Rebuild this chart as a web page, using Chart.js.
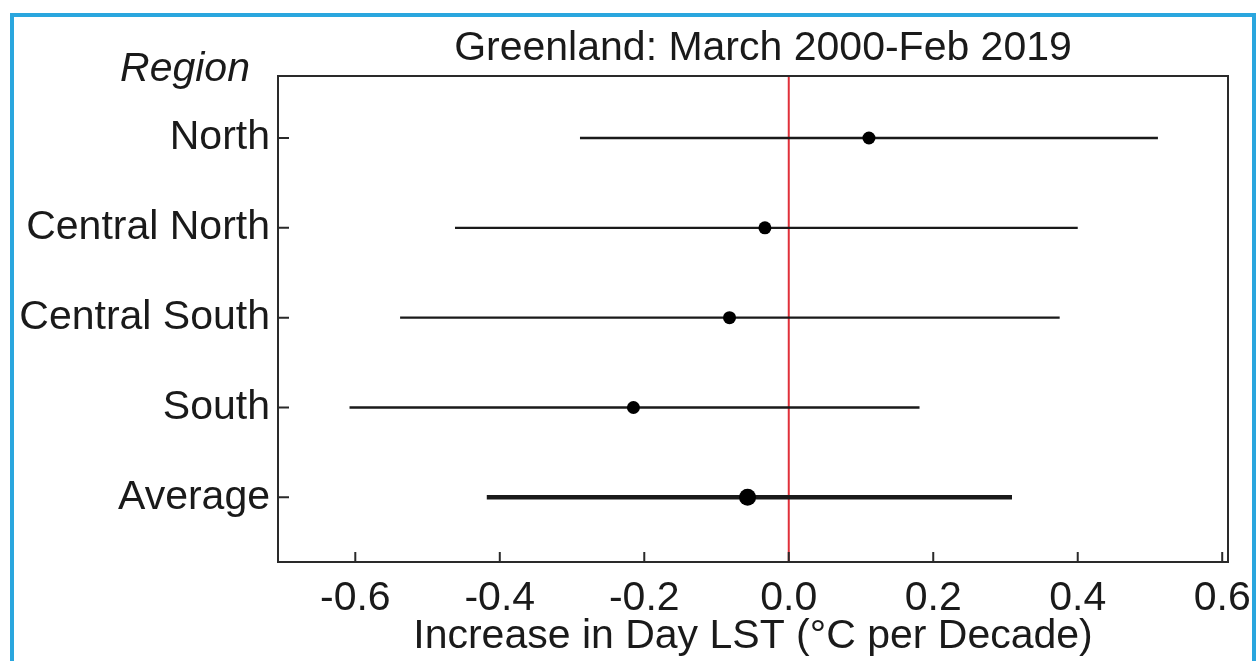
<!DOCTYPE html>
<html>
<head>
<meta charset="utf-8">
<script src="https://cdn.jsdelivr.net/npm/chart.js@4"></script>
<style>
html,body{margin:0;padding:0;background:#fff;}
#wrap{position:relative;width:1258px;height:661px;}
</style>
</head>
<body>
<div id="wrap"><canvas id="c" width="1258" height="661"></canvas></div>
<script>
// ---- data ----
const categories = ["North", "Central North", "Central South", "South", "Average"];
const estimates  = [0.111, -0.033, -0.082, -0.215, -0.057];
const lowerCI    = [-0.289, -0.462, -0.538, -0.608, -0.418];
const upperCI    = [0.511, 0.400, 0.375, 0.181, 0.309];
const xTickValues = [-0.6, -0.4, -0.2, 0.0, 0.2, 0.4, 0.6];
const refValue = 0.0;
const titleText = "Greenland: March 2000-Feb 2019";
const xTitleText = "Increase in Day LST (\u00B0C per Decade)";
const yTitleText = "Region";

const FONT = "'Liberation Sans', Arial, sans-serif";
const TXT = "#1a1a1a";

const datasets = [];
categories.forEach((c, i) => {
  const isAvg = c === "Average";
  datasets.push({
    type: 'line',
    data: [{x: lowerCI[i], y: i + 1}, {x: upperCI[i], y: i + 1}],
    borderColor: '#1a1a1a',
    borderWidth: isAvg ? 4.5 : 2.3,
    pointRadius: 0,
    fill: false,
    order: 2
  });
});
datasets.push({
  type: 'scatter',
  data: estimates.map((v, i) => ({x: v, y: i + 1})),
  backgroundColor: '#000',
  borderColor: '#000',
  borderWidth: 0,
  pointRadius: estimates.map((v, i) => categories[i] === "Average" ? 8.5 : 6.5),
  order: 1
});

const decor = {
  id: 'decor',
  beforeDraw(chart) {
    const ctx = chart.ctx;
    ctx.save();
    ctx.fillStyle = '#fff';
    ctx.fillRect(0, 0, chart.width, chart.height);
    ctx.strokeStyle = '#2aa6de';
    ctx.lineWidth = 4;
    ctx.strokeRect(12, 15, 1242, 700);
    ctx.restore();
  },
  beforeDatasetsDraw(chart) {
    const {ctx, chartArea: a, scales: {x}} = chart;
    ctx.save();
    const rx = x.getPixelForValue(refValue);
    ctx.strokeStyle = '#e0303a';
    ctx.lineWidth = 2;
    ctx.beginPath();
    ctx.moveTo(rx, a.top);
    ctx.lineTo(rx, a.bottom);
    ctx.stroke();
    ctx.restore();
  },
  afterDraw(chart) {
    const {ctx, chartArea: a, scales: {x, y}} = chart;
    ctx.save();
    ctx.strokeStyle = '#2a2a2a';
    ctx.lineWidth = 2;
    ctx.strokeRect(a.left, a.top, a.right - a.left, a.bottom - a.top);
    ctx.beginPath();
    x.ticks.forEach(t => {
      const px = x.getPixelForValue(t.value);
      ctx.moveTo(px, a.bottom);
      ctx.lineTo(px, a.bottom - 10);
    });
    y.ticks.forEach(t => {
      const py = y.getPixelForValue(t.value);
      ctx.moveTo(a.left, py);
      ctx.lineTo(a.left + 11, py);
    });
    ctx.stroke();

    ctx.fillStyle = TXT;
    ctx.textAlign = 'center';
    ctx.textBaseline = 'middle';
    ctx.font = "41px " + FONT;
    ctx.fillText(titleText, (a.left + a.right) / 2 + 10, 49);
    ctx.fillText(xTitleText, (a.left + a.right) / 2, 637);
    ctx.font = "italic 41px " + FONT;
    ctx.fillText(yTitleText, 185, 70);
    ctx.restore();
  }
};

new Chart(document.getElementById('c'), {
  data: {datasets},
  options: {
    responsive: false,
    animation: false,
    devicePixelRatio: 1,
    layout: {padding: {top: 76, right: 30, left: 0, bottom: 0}},
    plugins: {legend: {display: false}, tooltip: {enabled: false}, title: {display: false}},
    scales: {
      x: {
        type: 'linear',
        min: -0.707, max: 0.608,
        grid: {display: false, drawTicks: false},
        border: {display: false},
        afterBuildTicks: s => { s.ticks = xTickValues.map(v => ({value: v})); },
        afterFit: s => { s.height = 99; s.paddingLeft = 0; s.paddingRight = 0; },
        ticks: {
          padding: 12,
          color: TXT,
          font: {family: FONT, size: 41},
          maxRotation: 0,
          autoSkip: false,
          callback: v => Number(v).toFixed(1)
        }
      },
      y: {
        type: 'linear',
        reverse: true,
        min: 0.31, max: 5.72,
        grid: {display: false, drawTicks: false},
        border: {display: false},
        afterBuildTicks: s => { s.ticks = categories.map((c, i) => ({value: i + 1})); },
        afterFit: s => { s.width = 278; s.paddingTop = 0; s.paddingBottom = 0; },
        ticks: {
          padding: 8,
          color: TXT,
          font: {family: FONT, size: 41},
          autoSkip: false,
          callback: v => categories[Math.round(v) - 1] || ''
        }
      }
    }
  },
  plugins: [decor]
});
</script>
</body>
</html>
